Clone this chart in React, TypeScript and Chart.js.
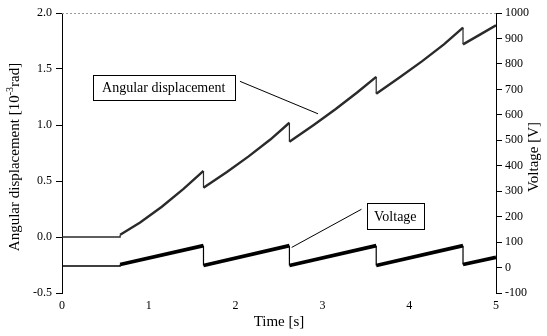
import React, { useEffect, useRef } from "react";
import { Chart, registerables } from "chart.js";

Chart.register(...registerables);

// ---- data ----
const timeTicks = [0, 1, 2, 3, 4, 5];
const angleTicks = [-0.5, 0, 0.5, 1.0, 1.5, 2.0];
const voltTicks = [-100, 0, 100, 200, 300, 400, 500, 600, 700, 800, 900, 1000];

const angleTime = [0, 0.67, 0.67, 0.9, 1.15, 1.4, 1.63, 1.63, 1.9, 2.15, 2.4, 2.62, 2.62, 2.9, 3.15, 3.4, 3.62, 3.62, 3.9, 4.15, 4.4, 4.62, 4.62, 4.8, 5.0];
const angleValues = [0, 0, 0.02, 0.13, 0.27, 0.43, 0.59, 0.44, 0.58, 0.72, 0.87, 1.02, 0.85, 1.0, 1.14, 1.29, 1.43, 1.28, 1.43, 1.57, 1.72, 1.87, 1.72, 1.8, 1.89];

const voltTime = [0, 0.67, 0.67, 1.63, 1.63, 2.62, 2.62, 3.62, 3.62, 4.62, 4.62, 5.0];
const voltValues = [6, 6, 12, 86, 8, 86, 8, 86, 8, 86, 12, 40];

const rampStart = 0.67; // before this time the traces are flat

const angleLabel = "Angular displacement";
const voltLabel = "Voltage";
const xTitle = "Time [s]";
const yTitleParts = ["Angular displacement [10", "-3", "rad]"];
const y2Title = "Voltage [V]";

const FONT = "'Liberation Serif', 'Times New Roman', serif";

const overlayPlugin = {
  id: "overlay",
  afterDraw(chart: any) {
    const { ctx, chartArea, scales } = chart;
    const x = scales.x, y = scales.y, y2 = scales.y2;
    ctx.save();
    ctx.fillStyle = "#000";

    // faint top border
    ctx.lineWidth = 1;
    ctx.strokeStyle = "#9a9a9a";
    ctx.setLineDash([2, 2]);
    ctx.beginPath();
    ctx.moveTo(chartArea.left, chartArea.top + 0.5);
    ctx.lineTo(chartArea.right, chartArea.top + 0.5);
    ctx.stroke();
    ctx.setLineDash([]);
    ctx.strokeStyle = "#000";

    // x title
    ctx.font = `15px ${FONT}`;
    ctx.textAlign = "center";
    ctx.textBaseline = "middle";
    ctx.fillText(xTitle, (chartArea.left + chartArea.right) / 2, 322);

    // left title with superscript
    const cy = (chartArea.top + chartArea.bottom) / 2 + 4;
    ctx.save();
    ctx.translate(15, cy);
    ctx.rotate(-Math.PI / 2);
    ctx.textAlign = "left";
    ctx.font = `15px ${FONT}`;
    const w0 = ctx.measureText(yTitleParts[0]).width;
    const w2 = ctx.measureText(yTitleParts[2]).width;
    ctx.font = `10px ${FONT}`;
    const w1 = ctx.measureText(yTitleParts[1]).width;
    const total = w0 + w1 + w2;
    let px = -total / 2;
    ctx.font = `15px ${FONT}`;
    ctx.fillText(yTitleParts[0], px, 0);
    px += w0;
    ctx.font = `10px ${FONT}`;
    ctx.fillText(yTitleParts[1], px, -5);
    px += w1;
    ctx.font = `15px ${FONT}`;
    ctx.fillText(yTitleParts[2], px, 0);
    ctx.restore();

    // right title (reads bottom to top)
    ctx.save();
    ctx.translate(534, cy);
    ctx.rotate(-Math.PI / 2);
    ctx.textAlign = "center";
    ctx.font = `15px ${FONT}`;
    ctx.fillText(y2Title, 0, 0);
    ctx.restore();

    const drawBox = (x0: number, y0: number, x1: number, y1: number, text: string) => {
      ctx.fillStyle = "#fff";
      ctx.fillRect(x0, y0, x1 - x0, y1 - y0);
      ctx.lineWidth = 1;
      ctx.strokeStyle = "#000";
      ctx.strokeRect(Math.round(x0) + 0.5, Math.round(y0) + 0.5, Math.round(x1 - x0), Math.round(y1 - y0));
      ctx.fillStyle = "#000";
      ctx.font = `14px ${FONT}`;
      ctx.textAlign = "center";
      ctx.textBaseline = "middle";
      ctx.fillText(text, (x0 + x1) / 2, (y0 + y1) / 2 + 1);
    };
    const line = (xa: number, ya: number, xb: number, yb: number) => {
      ctx.lineWidth = 1;
      ctx.strokeStyle = "#000";
      ctx.beginPath();
      ctx.moveTo(xa, ya);
      ctx.lineTo(xb, yb);
      ctx.stroke();
    };

    line(x.getPixelForValue(2.05), y.getPixelForValue(1.39), x.getPixelForValue(2.95), y.getPixelForValue(1.10));
    drawBox(x.getPixelForValue(0.354), y.getPixelForValue(1.45), x.getPixelForValue(1.99), y.getPixelForValue(1.227), angleLabel);

    line(x.getPixelForValue(3.45), y2.getPixelForValue(229), x.getPixelForValue(2.646), y2.getPixelForValue(79));
    drawBox(x.getPixelForValue(3.51), y2.getPixelForValue(253), x.getPixelForValue(4.17), y2.getPixelForValue(151), voltLabel);

    ctx.restore();
  },
};

const segWidth = (thick: number) => (c: any) => {
  const a = c.p0.parsed.x, b = c.p1.parsed.x;
  if (b <= rampStart) return 1.3;
  if (Math.abs(b - a) < 1e-9) return 1.2;
  return thick;
};

export default function App() {
  const ref = useRef<HTMLCanvasElement | null>(null);

  useEffect(() => {
    if (!ref.current) return;
    const chart = new Chart(ref.current, {
      type: "line",
      data: {
        datasets: [
          {
            label: voltLabel,
            data: voltTime.map((t, i) => ({ x: t, y: voltValues[i] })),
            yAxisID: "y2",
            borderColor: "#000",
            borderWidth: 3.8,
            segment: { borderWidth: segWidth(3.8) },
            pointRadius: 0,
            tension: 0,
            fill: false,
          },
          {
            label: angleLabel,
            data: angleTime.map((t, i) => ({ x: t, y: angleValues[i] })),
            yAxisID: "y",
            borderColor: "#2a2a2a",
            borderWidth: 2.2,
            segment: { borderWidth: segWidth(2.4) },
            pointRadius: 0,
            tension: 0,
            fill: false,
          },
        ],
      },
      options: {
        responsive: false,
        animation: false,
        devicePixelRatio: 1,
        layout: { padding: { top: 13, left: 0, right: 0, bottom: 0 } },
        plugins: { legend: { display: false }, tooltip: { enabled: false } },
        scales: {
          x: {
            type: "linear",
            min: 0,
            max: 5,
            afterBuildTicks: (s: any) => { s.ticks = timeTicks.map((v) => ({ value: v })); },
            afterFit: (s: any) => { s.height = 43; },
            grid: { display: false, drawTicks: false, tickLength: 0 },
            border: { display: false },
            ticks: { color: "#000", font: { family: FONT, size: 12 }, padding: 6, maxRotation: 0, callback: (v: any) => String(v) },
          },
          y: {
            type: "linear",
            position: "left",
            min: -0.5,
            max: 2.0,
            afterBuildTicks: (s: any) => { s.ticks = angleTicks.map((v) => ({ value: v })); },
            afterFit: (s: any) => { s.width = 62; },
            grid: { drawOnChartArea: false, tickLength: 6, color: "#000" },
            border: { display: true, color: "#000", width: 1 },
            ticks: { color: "#000", font: { family: FONT, size: 12 }, padding: 4, callback: (v: any) => Number(v).toFixed(1) },
          },
          y2: {
            type: "linear",
            position: "right",
            min: -100,
            max: 1000,
            afterBuildTicks: (s: any) => { s.ticks = voltTicks.map((v) => ({ value: v })); },
            afterFit: (s: any) => { s.width = 51; },
            grid: { drawOnChartArea: false, tickLength: 6, color: "#000" },
            border: { display: true, color: "#000", width: 1 },
            ticks: { color: "#000", font: { family: FONT, size: 12 }, padding: 3, callback: (v: any) => String(v) },
          },
        },
      },
      plugins: [overlayPlugin],
    });
    return () => chart.destroy();
  }, []);

  return (
    <div style={{ position: "absolute", left: 0, top: 0, width: 547, height: 336, background: "#fff" }}>
      <canvas ref={ref} width={547} height={336} style={{ width: 547, height: 336, display: "block" }} />
    </div>
  );
}
